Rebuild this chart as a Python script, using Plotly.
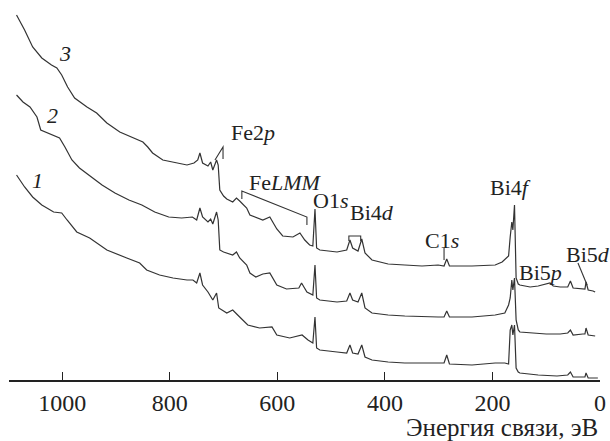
import plotly.graph_objects as go

# Binding energy (eV) and intensity (arb. units)
e3 = [1085, 1070, 1055, 1038, 1020, 1010, 1001, 990, 977, 954, 936, 917, 893, 869, 850, 841, 832, 813,
      787, 768, 755, 748, 744, 739, 729, 724, 720, 713, 710, 707, 700, 694, 683, 676, 670, 657, 651, 638,
      627, 614, 601, 590, 571, 558, 549, 540, 534, 530, 527, 521, 489, 471, 465, 460, 450, 443, 437, 424,
      394, 363, 331, 301, 290, 285, 280, 238, 195, 182, 175, 170, 167, 164, 162, 159, 156, 152, 149, 130,
      115, 93, 87, 74, 60, 55, 50, 32, 28, 26, 22, 13, 9]
i3 = [365, 350, 333, 322, 315, 312, 305, 293, 282, 273, 267, 257, 248, 242, 238, 233, 227, 220,
      217, 215, 217, 220, 227, 217, 214, 218, 210, 220, 215, 190, 184, 181, 178, 182, 179, 172, 165, 162,
      160, 163, 151, 144, 143, 147, 140, 135, 134, 171, 132, 130, 128, 130, 140, 132, 129, 141, 127, 120,
      116, 115, 114, 115, 114, 121, 114, 114, 115, 118, 122, 124, 143, 158, 150, 175, 102, 96, 95, 93,
      94, 97, 94, 93, 93, 99, 92, 91, 91, 98, 90, 89, 88]

e2 = [1085, 1073, 1060, 1047, 1040, 1020, 1005, 995, 982, 968, 950, 926, 902, 876, 852, 828, 802, 778,
      758, 750, 744, 739, 729, 724, 720, 713, 710, 707, 700, 694, 683, 676, 670, 657, 651, 640, 627, 614,
      601, 583, 560, 555, 545, 534, 530, 527, 521, 489, 471, 465, 460, 450, 443, 437, 424, 394, 363, 301,
      290, 285, 280, 238, 195, 177, 170, 167, 164, 162, 159, 156, 152, 149, 120, 100, 74, 60, 55, 50, 32,
      28, 26, 22, 9]
i2 = [285, 278, 273, 263, 250, 245, 242, 233, 220, 212, 205, 195, 187, 180, 175, 168, 163, 162,
      163, 160, 172, 163, 158, 161, 156, 168, 160, 130, 128, 127, 125, 128, 122, 115, 107, 103, 106, 107,
      95, 91, 92, 97, 88, 85, 115, 82, 80, 78, 79, 87, 80, 78, 87, 72, 67, 65, 64, 63,
      63, 69, 63, 63, 65, 67, 75, 82, 100, 90, 102, 60, 50, 48, 47, 46, 46, 47, 50, 45, 46,
      46, 52, 45, 44]

e1 = [1085, 1070, 1055, 1038, 1016, 1001, 991, 973, 949, 917, 880, 856, 843, 819, 794, 768, 757, 750,
      744, 739, 729, 720, 713, 709, 694, 683, 670, 655, 633, 610, 601, 577, 554, 543, 534, 530, 527, 521,
      489, 471, 465, 460, 450, 443, 437, 424, 394, 363, 301, 290, 285, 280, 238, 195, 177, 170, 167, 164,
      162, 159, 156, 152, 149, 115, 80, 60, 55, 50, 32, 28, 26, 22, 4]
i1 = [205, 193, 183, 175, 168, 167, 160, 148, 142, 130, 122, 117, 110, 105, 102, 100, 100, 97,
      107, 95, 88, 80, 87, 72, 67, 70, 63, 55, 52, 53, 45, 42, 45, 40, 37, 63, 32, 30,
      28, 27, 35, 27, 26, 35, 23, 20, 18, 17, 17, 17, 25, 16, 15, 17, 17, 16, 50, 55,
      45, 55, 12, 8, 7, 5, 4, 5, 8, 3, 3, 3, 7, 2, 2]

tick_vals = [1000, 800, 600, 400, 200, 0]
tick_text = ["1000", "800", "600", "400", "200", "0"]

line_color = "#333333"
FONT = "Liberation Serif, Times New Roman, serif"

fig = go.Figure()
for ex, iy in [(e1, i1), (e2, i2), (e3, i3)]:
    fig.add_trace(go.Scatter(x=ex, y=iy, mode="lines",
                             line=dict(color=line_color, width=1.2),
                             showlegend=False, hoverinfo="skip"))

labels = [
    ("<i>3</i>", 995, 327, 22),
    ("<i>2</i>", 1018, 265, 22),
    ("<i>1</i>", 1046, 200, 22),
    ("Fe2<i>p</i>", 645, 248, 22),
    ("Fe<i>LMM</i>", 584, 198, 22),
    ("O1<i>s</i>", 502, 180, 22),
    ("Bi4<i>d</i>", 424, 168, 22),
    ("C1<i>s</i>", 294, 140, 22),
    ("Bi4<i>f</i>", 167, 193, 22),
    ("Bi5<i>p</i>", 110, 108, 22),
    ("Bi5<i>d</i>", 22, 126, 22),
]
annotations = []
for txt, xx, yy, fs in labels:
    annotations.append(dict(x=xx, y=yy, xref="x", yref="y", text=txt, showarrow=False,
                            xanchor="center", yanchor="middle",
                            font=dict(family=FONT, size=fs, color="#222222")))
annotations.append(dict(x=1, y=0, xref="paper", yref="paper", text="Энергия связи, эВ",
                        showarrow=False, xanchor="right", yanchor="top", yshift=-32,
                        font=dict(family=FONT, size=25, color="#222222")))

shapes = []
def path_shape(pts):
    d = "M " + " L ".join(f"{a},{b}" for a, b in pts)
    return dict(type="path", path=d, xref="x", yref="y",
                line=dict(color=line_color, width=1.1))

shapes.append(path_shape([(716, 220), (701, 233), (701, 221)]))          # Fe2p
shapes.append(path_shape([(666, 181), (666, 189), (545, 163), (545, 155)]))  # FeLMM
shapes.append(path_shape([(467, 139), (467, 144), (445, 144), (445, 139)]))  # Bi4d
shapes.append(path_shape([(290, 132), (290, 120)]))                      # C1s
shapes.append(path_shape([(41, 117), (24, 95)]))                         # Bi5d

fig.update_layout(
    width=610, height=441,
    margin=dict(l=9, r=10, t=0, b=61),
    paper_bgcolor="white", plot_bgcolor="white",
    annotations=annotations, shapes=shapes,
    xaxis=dict(range=[1099, 0], tickvals=tick_vals, ticktext=tick_text,
               ticks="inside", ticklen=8, tickwidth=1.3, tickcolor="#222222",
               showline=True, linecolor="#222222", linewidth=1.5,
               showgrid=False, zeroline=False, automargin=False,
               tickfont=dict(family=FONT, size=24, color="#222222")),
    yaxis=dict(range=[0, 380], visible=False, showgrid=False, zeroline=False),
)

fig.write_html("out.html", config={"displayModeBar": False},
               post_script="document.body.style.margin='0px';")
